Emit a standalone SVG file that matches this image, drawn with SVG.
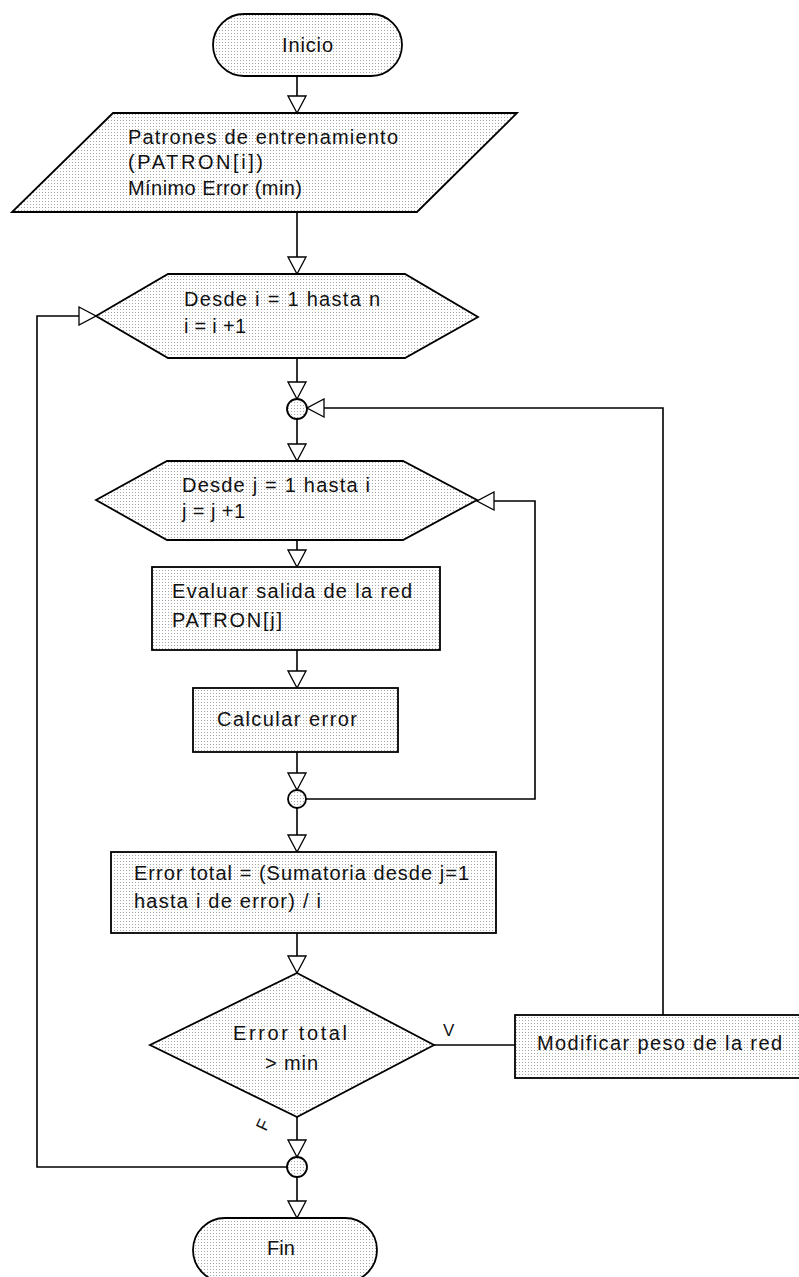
<svg xmlns="http://www.w3.org/2000/svg" width="799" height="1277" viewBox="0 0 799 1277">
<style>
.s{fill:url(#dots);stroke:#000;stroke-width:1.8}
.t{font-family:"Liberation Sans",Arial,sans-serif;font-size:20px;fill:#111}
.c{fill:none;stroke:#000;stroke-width:1.6}
.a{marker-end:url(#ah)}
</style>
<defs>
<pattern id="dots" width="3" height="3" patternUnits="userSpaceOnUse">
<rect width="3" height="3" fill="#fff"/>
<rect width="1" height="1" fill="#a8a8a8"/>
</pattern>
<marker id="ah" viewBox="0 0 19 20" refX="18" refY="10" markerWidth="19" markerHeight="20" markerUnits="userSpaceOnUse" orient="auto">
<path d="M1,1 L18,10 L1,19 Z" fill="#fff" stroke="#000" stroke-width="1.3"/>
</marker>
</defs>
<rect width="799" height="1277" fill="#fff"/>

<g id="connectors">
<path class="c a" d="M297,76 V113"/>
<path class="c a" d="M297,212 V274"/>
<path class="c a" d="M297,358 V399"/>
<path class="c a" d="M297,419 V461"/>
<path class="c a" d="M297,540 V567"/>
<path class="c a" d="M297,650 V688"/>
<path class="c a" d="M297,752 V790"/>
<path class="c a" d="M297,808 V852"/>
<path class="c a" d="M297,933 V973"/>
<path class="c a" d="M297,1117 V1157"/>
<path class="c a" d="M297,1177 V1218"/>
<path class="c a" d="M306,799 H535 V501 H477"/>
<path class="c a" d="M287,1167 H37 V316 H96"/>
<path class="c" d="M434,1045 H515"/>
<path class="c a" d="M663,1015 V408 H307"/>
<text class="t" x="443" y="1036" style="font-size:17px">V</text>
<text class="t" x="0" y="0" style="font-size:17px" transform="translate(266,1132) rotate(-65)">F</text>
<text class="t" x="275" y="1091" style="font-size:16px">.</text>
</g>

<g id="inicio">
<rect class="s" x="213" y="14" width="189" height="62" rx="31"/>
<text class="t" x="282" y="52" textLength="51" lengthAdjust="spacing">Inicio</text>
</g>

<g id="patrones">
<polygon class="s" points="113,113 517,113 417,212 12,212"/>
<text class="t" x="128" y="144" textLength="270" lengthAdjust="spacing">Patrones de entrenamiento</text>
<text class="t" x="128" y="169" textLength="135" lengthAdjust="spacing">(PATRON[i])</text>
<text class="t" x="128" y="195" textLength="174" lengthAdjust="spacing">Mínimo Error (min)</text>
</g>

<g id="desde-i">
<polygon class="s" points="96,316 168,274 405,274 478,317 405,358 168,358"/>
<text class="t" x="184" y="306" textLength="196" lengthAdjust="spacing">Desde i = 1 hasta n</text>
<text class="t" x="184" y="333" textLength="62" lengthAdjust="spacing">i = i +1</text>
</g>

<g id="merge1">
<circle class="s" cx="297" cy="409" r="10"/>
</g>

<g id="desde-j">
<polygon class="s" points="96,500 167,461 403,461 477,500 403,540 167,540"/>
<text class="t" x="182" y="492" textLength="188" lengthAdjust="spacing">Desde j = 1 hasta i</text>
<text class="t" x="182" y="518" textLength="63" lengthAdjust="spacing">j = j +1</text>
</g>

<g id="evaluar">
<rect class="s" x="152" y="567" width="288" height="83"/>
<text class="t" x="172" y="598" textLength="240" lengthAdjust="spacing">Evaluar salida de la red</text>
<text class="t" x="172" y="627" textLength="110" lengthAdjust="spacing">PATRON[j]</text>
</g>

<g id="calcular">
<rect class="s" x="193" y="688" width="205" height="64"/>
<text class="t" x="217" y="726" textLength="140" lengthAdjust="spacing">Calcular error</text>
</g>

<g id="merge2">
<circle class="s" cx="297" cy="799" r="9"/>
</g>

<g id="error-total">
<rect class="s" x="111" y="852" width="385" height="81"/>
<text class="t" x="134" y="880" textLength="335" lengthAdjust="spacing">Error total = (Sumatoria desde j=1</text>
<text class="t" x="134" y="908" textLength="187" lengthAdjust="spacing">hasta i de error) / i</text>
</g>

<g id="decision">
<polygon class="s" points="297,973 434,1045 297,1117 150,1045"/>
<text class="t" x="233" y="1040" textLength="114" lengthAdjust="spacing">Error total</text>
<text class="t" x="265" y="1070" textLength="53" lengthAdjust="spacing">&gt; min</text>
</g>

<g id="modificar">
<rect class="s" x="515" y="1015" width="292" height="63"/>
<text class="t" x="537" y="1050" textLength="245" lengthAdjust="spacing">Modificar peso de la red</text>
</g>

<g id="merge3">
<circle class="s" cx="297" cy="1167" r="10"/>
</g>

<g id="fin">
<rect class="s" x="193" y="1218" width="184" height="64" rx="32"/>
<text class="t" x="267" y="1255">Fin</text>
</g>
</svg>
